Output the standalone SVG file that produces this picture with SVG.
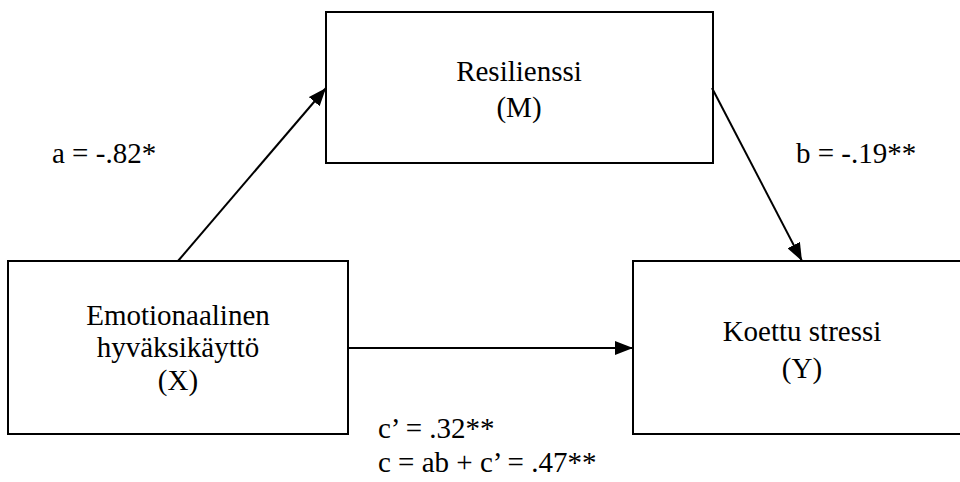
<svg xmlns="http://www.w3.org/2000/svg" width="960" height="482" viewBox="0 0 960 482">
<defs>
<style>
.box{fill:#fff;stroke:#000;stroke-width:2}
.t{font-family:"Liberation Serif","Times New Roman",serif;font-size:29px;fill:#000}
.c{text-anchor:middle}
.ln{stroke:#000;stroke-width:2;fill:none;marker-end:url(#ah)}
</style>
<marker id="ah" markerUnits="userSpaceOnUse" markerWidth="18" markerHeight="14" viewBox="0 0 18 14" refX="18" refY="7" orient="auto">
<path d="M0,0 L18,7 L0,14 Z" fill="#000"/>
</marker>
</defs>
<rect width="960" height="482" fill="#fff"/>
<g id="node-M">
<rect class="box" x="326" y="12" width="387" height="151"/>
<text class="t c" x="519" y="81">Resilienssi</text>
<text class="t c" x="519" y="117">(M)</text>
</g>
<g id="node-X">
<rect class="box" x="8" y="261" width="340" height="173"/>
<text class="t c" x="178" y="325">Emotionaalinen</text>
<text class="t c" x="178" y="357">hyväksikäyttö</text>
<text class="t c" x="178" y="390">(X)</text>
</g>
<g id="node-Y">
<rect class="box" x="633" y="261" width="340" height="173"/>
<text class="t c" x="802" y="341">Koettu stressi</text>
<text class="t c" x="802" y="378">(Y)</text>
</g>
<g id="connectors">
<line class="ln" x1="178" y1="261" x2="326" y2="88"/>
<line class="ln" x1="712" y1="88" x2="802" y2="261"/>
<line class="ln" x1="348" y1="348" x2="633" y2="348"/>
</g>
<g id="labels">
<text class="t" x="52" y="163">a = -.82*</text>
<text class="t" x="796" y="163">b = -.19**</text>
<text class="t" x="378" y="438">c’ = .32**</text>
<text class="t" x="378" y="472">c = ab + c’ = .47**</text>
</g>
</svg>
